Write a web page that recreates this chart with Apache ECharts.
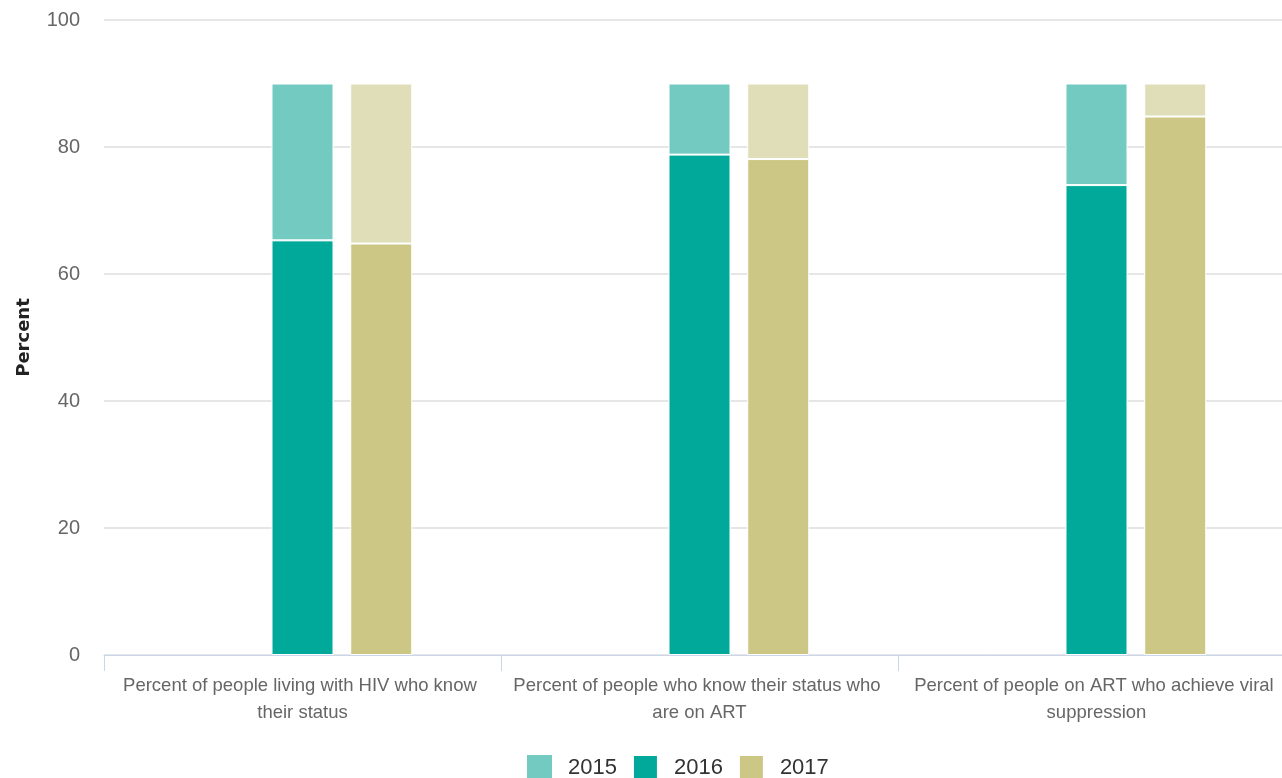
<!DOCTYPE html>
<html>
<head>
<meta charset="utf-8">
<script src="https://cdn.jsdelivr.net/npm/echarts@6/dist/echarts.min.js"></script>
<style>
  html, body { margin: 0; padding: 0; background: #fff; }
  #chart { width: 1282px; height: 778px; }
</style>
</head>
<body>
<div id="chart"></div>
<script>
'use strict';
var categories = [
	'Percent of people living with HIV who know their status',
	'Percent of people who know their status who are on ART',
	'Percent of people on ART who achieve viral suppression'
];
var years = ['2015', '2016', '2017'];
var values2015 = [null, null, null];
var values2016 = [65.3, 78.8, 74];
var values2017 = [64.8, 78.1, 84.8];
var target = [90, 90, 90];
var yTicks = [0, 20, 40, 60, 80, 100];

var font = '"Liberation Sans", Arial, sans-serif';

// remaining distance to the 90 target, drawn as the pale top of each bar
function gap(vals) {
	return vals.map(function(v, i) { return v == null ? null : +(target[i] - v).toFixed(1); });
}

var barW = 62;
var option = {
	animation: false,
	grid: { left: 104, right: -13, top: 20, bottom: 123, outerBoundsMode: 'none', containLabel: false },
	legend: {
		data: years,
		top: 754,
		left: 527,
		padding: 0,
		itemWidth: 25,
		itemHeight: 25,
		itemGap: 15,
		icon: 'rect',
		textStyle: { fontFamily: font, fontSize: 22, color: '#333', padding: [0, 0, 0, 11] }
	},
	xAxis: [{
		type: 'category',
		data: categories,
		axisLine: { lineStyle: { color: '#ccd6eb', width: 1 } },
		axisTick: { show: true, length: 16, lineStyle: { color: '#ccd6eb' } },
		axisLabel: {
			interval: 0,
			width: 375,
			overflow: 'break',
			margin: 17,
			fontFamily: font,
			fontSize: 18.5,
			lineHeight: 27,
			color: '#666'
		}
	}],
	yAxis: [{
		type: 'value',
		min: yTicks[0],
		max: yTicks[yTicks.length - 1],
		interval: 20,
		name: 'Percent',
		nameLocation: 'middle',
		nameRotate: 90,
		nameGap: 71,
		nameTextStyle: { fontFamily: 'DejaVu Sans, sans-serif', fontWeight: 'bold', fontSize: 18, color: '#222' },
		axisLine: { show: false },
		axisTick: { show: false },
		axisLabel: { margin: 24, fontFamily: font, fontSize: 20, color: '#666' },
		splitLine: { lineStyle: { color: '#e6e6e6', width: 2 } }
	}],
	series: [{
		name: '2015',
		type: 'bar',
		barWidth: barW,
		barGap: '27%',
		itemStyle: { color: '#72cac0' },
		data: values2015
	}, {
		name: '2016',
		type: 'bar',
		stack: 's2016',
		barWidth: barW,
		itemStyle: { color: '#00a999', borderColor: '#fff', borderWidth: 1 },
		data: values2016
	}, {
		name: '2016 target',
		type: 'bar',
		stack: 's2016',
		barWidth: barW,
		itemStyle: { color: '#72cac0', borderColor: '#fff', borderWidth: 1 },
		data: gap(values2016)
	}, {
		name: '2017',
		type: 'bar',
		stack: 's2017',
		barWidth: barW,
		itemStyle: { color: '#cdc785', borderColor: '#fff', borderWidth: 1 },
		data: values2017
	}, {
		name: '2017 target',
		type: 'bar',
		stack: 's2017',
		barWidth: barW,
		itemStyle: { color: '#e0ddb9', borderColor: '#fff', borderWidth: 1 },
		data: gap(values2017)
	}]
};
var myChart = echarts.init(document.getElementById('chart'));
myChart.setOption(option);
</script>
</body>
</html>
